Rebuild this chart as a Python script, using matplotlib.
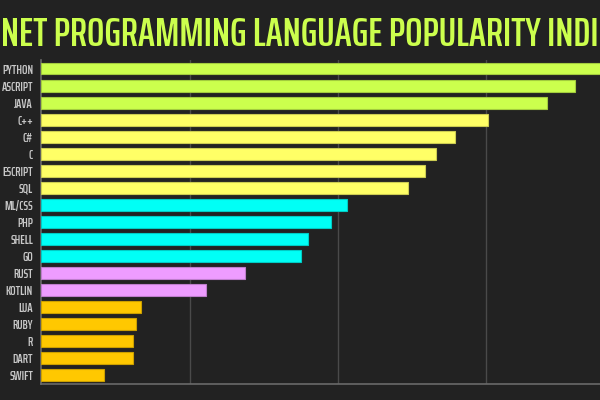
import matplotlib

matplotlib.use("Agg")
import matplotlib.pyplot as plt
from matplotlib.colors import to_rgb

# label texts as they show on the (cropped) original
languages = [
    "PYTHON", "ASCRIPT", "JAVA", "C++", "C#", "C", "ESCRIPT", "SQL",
    "ML/CSS", "PHP", "SHELL", "GO", "RUST", "KOTLIN",
    "LUA", "RUBY", "R", "DART", "SWIFT",
]
scores = [
    40.0, 36.0, 34.1, 30.1, 27.9, 26.6, 25.9, 24.7,
    20.6, 19.5, 18.0, 17.5, 13.7, 11.1,
    6.7, 6.4, 6.2, 6.2, 4.2,
]
groups = [
    "top", "top", "top", "high", "high", "high", "high", "high",
    "mid", "mid", "mid", "mid", "rising", "rising",
    "niche", "niche", "niche", "niche", "niche",
]
group_colors = {
    "top": "#ccff4d",
    "high": "#ffff66",
    "mid": "#00fff6",
    "rising": "#ee9cff",
    "niche": "#ffc800",
}
title = "NET PROGRAMMING LANGUAGE POPULARITY INDI"

bg = "#222222"
fonts = ["Saira ExtraCondensed", "Fira Sans Extra Condensed", "DejaVu Sans"]

fig = plt.figure(figsize=(6, 4), dpi=100, facecolor=bg)
ax = fig.add_axes([41.4 / 600, 16.3 / 400, 652.5 / 600, 323.7 / 400], facecolor=bg)

colors = [group_colors[g] for g in groups]
edges = [tuple(c * 0.8 for c in to_rgb(col)) for col in colors]
ypos = list(range(len(languages)))
ax.barh(ypos, scores, height=0.7, color=colors, edgecolor=edges, linewidth=0.8, zorder=3)

ax.set_ylim(len(languages) - 0.5, -0.5)
ax.set_xlim(0, 44)
ax.set_xticks([10, 20, 30, 40])
ax.set_xticklabels([])
ax.set_yticks(ypos)
ax.set_yticklabels(languages, family=fonts, fontweight="semibold", fontsize=10, color="#c8c8c8")
ax.tick_params(axis="both", length=0)
ax.tick_params(axis="y", pad=6)
ax.grid(axis="x", color="#4a4a4a", linewidth=1.0, zorder=0)
for side in ("top", "right"):
    ax.spines[side].set_visible(False)
for side in ("left", "bottom"):
    ax.spines[side].set_color("#6a6a6a")
    ax.spines[side].set_linewidth(1.2)

head = fig.text(0.5, 1 - 46 / 400, title, family=fonts, fontweight="semibold", fontsize=31,
                color="#ccff4d", ha="center", va="baseline")

# shrink title and labels until they sit inside the canvas
fig.canvas.draw()
width = head.get_window_extent().width
if width > 597:
    head.set_fontsize(31 * 597 / width)
widest = max(t.get_window_extent().width for t in ax.get_yticklabels())
room = 41.4 - 6 * 100 / 72 - 1.5
if widest > room:
    for t in ax.get_yticklabels():
        t.set_fontsize(10 * room / widest)

fig.savefig("out.png", dpi=100, facecolor=bg)
